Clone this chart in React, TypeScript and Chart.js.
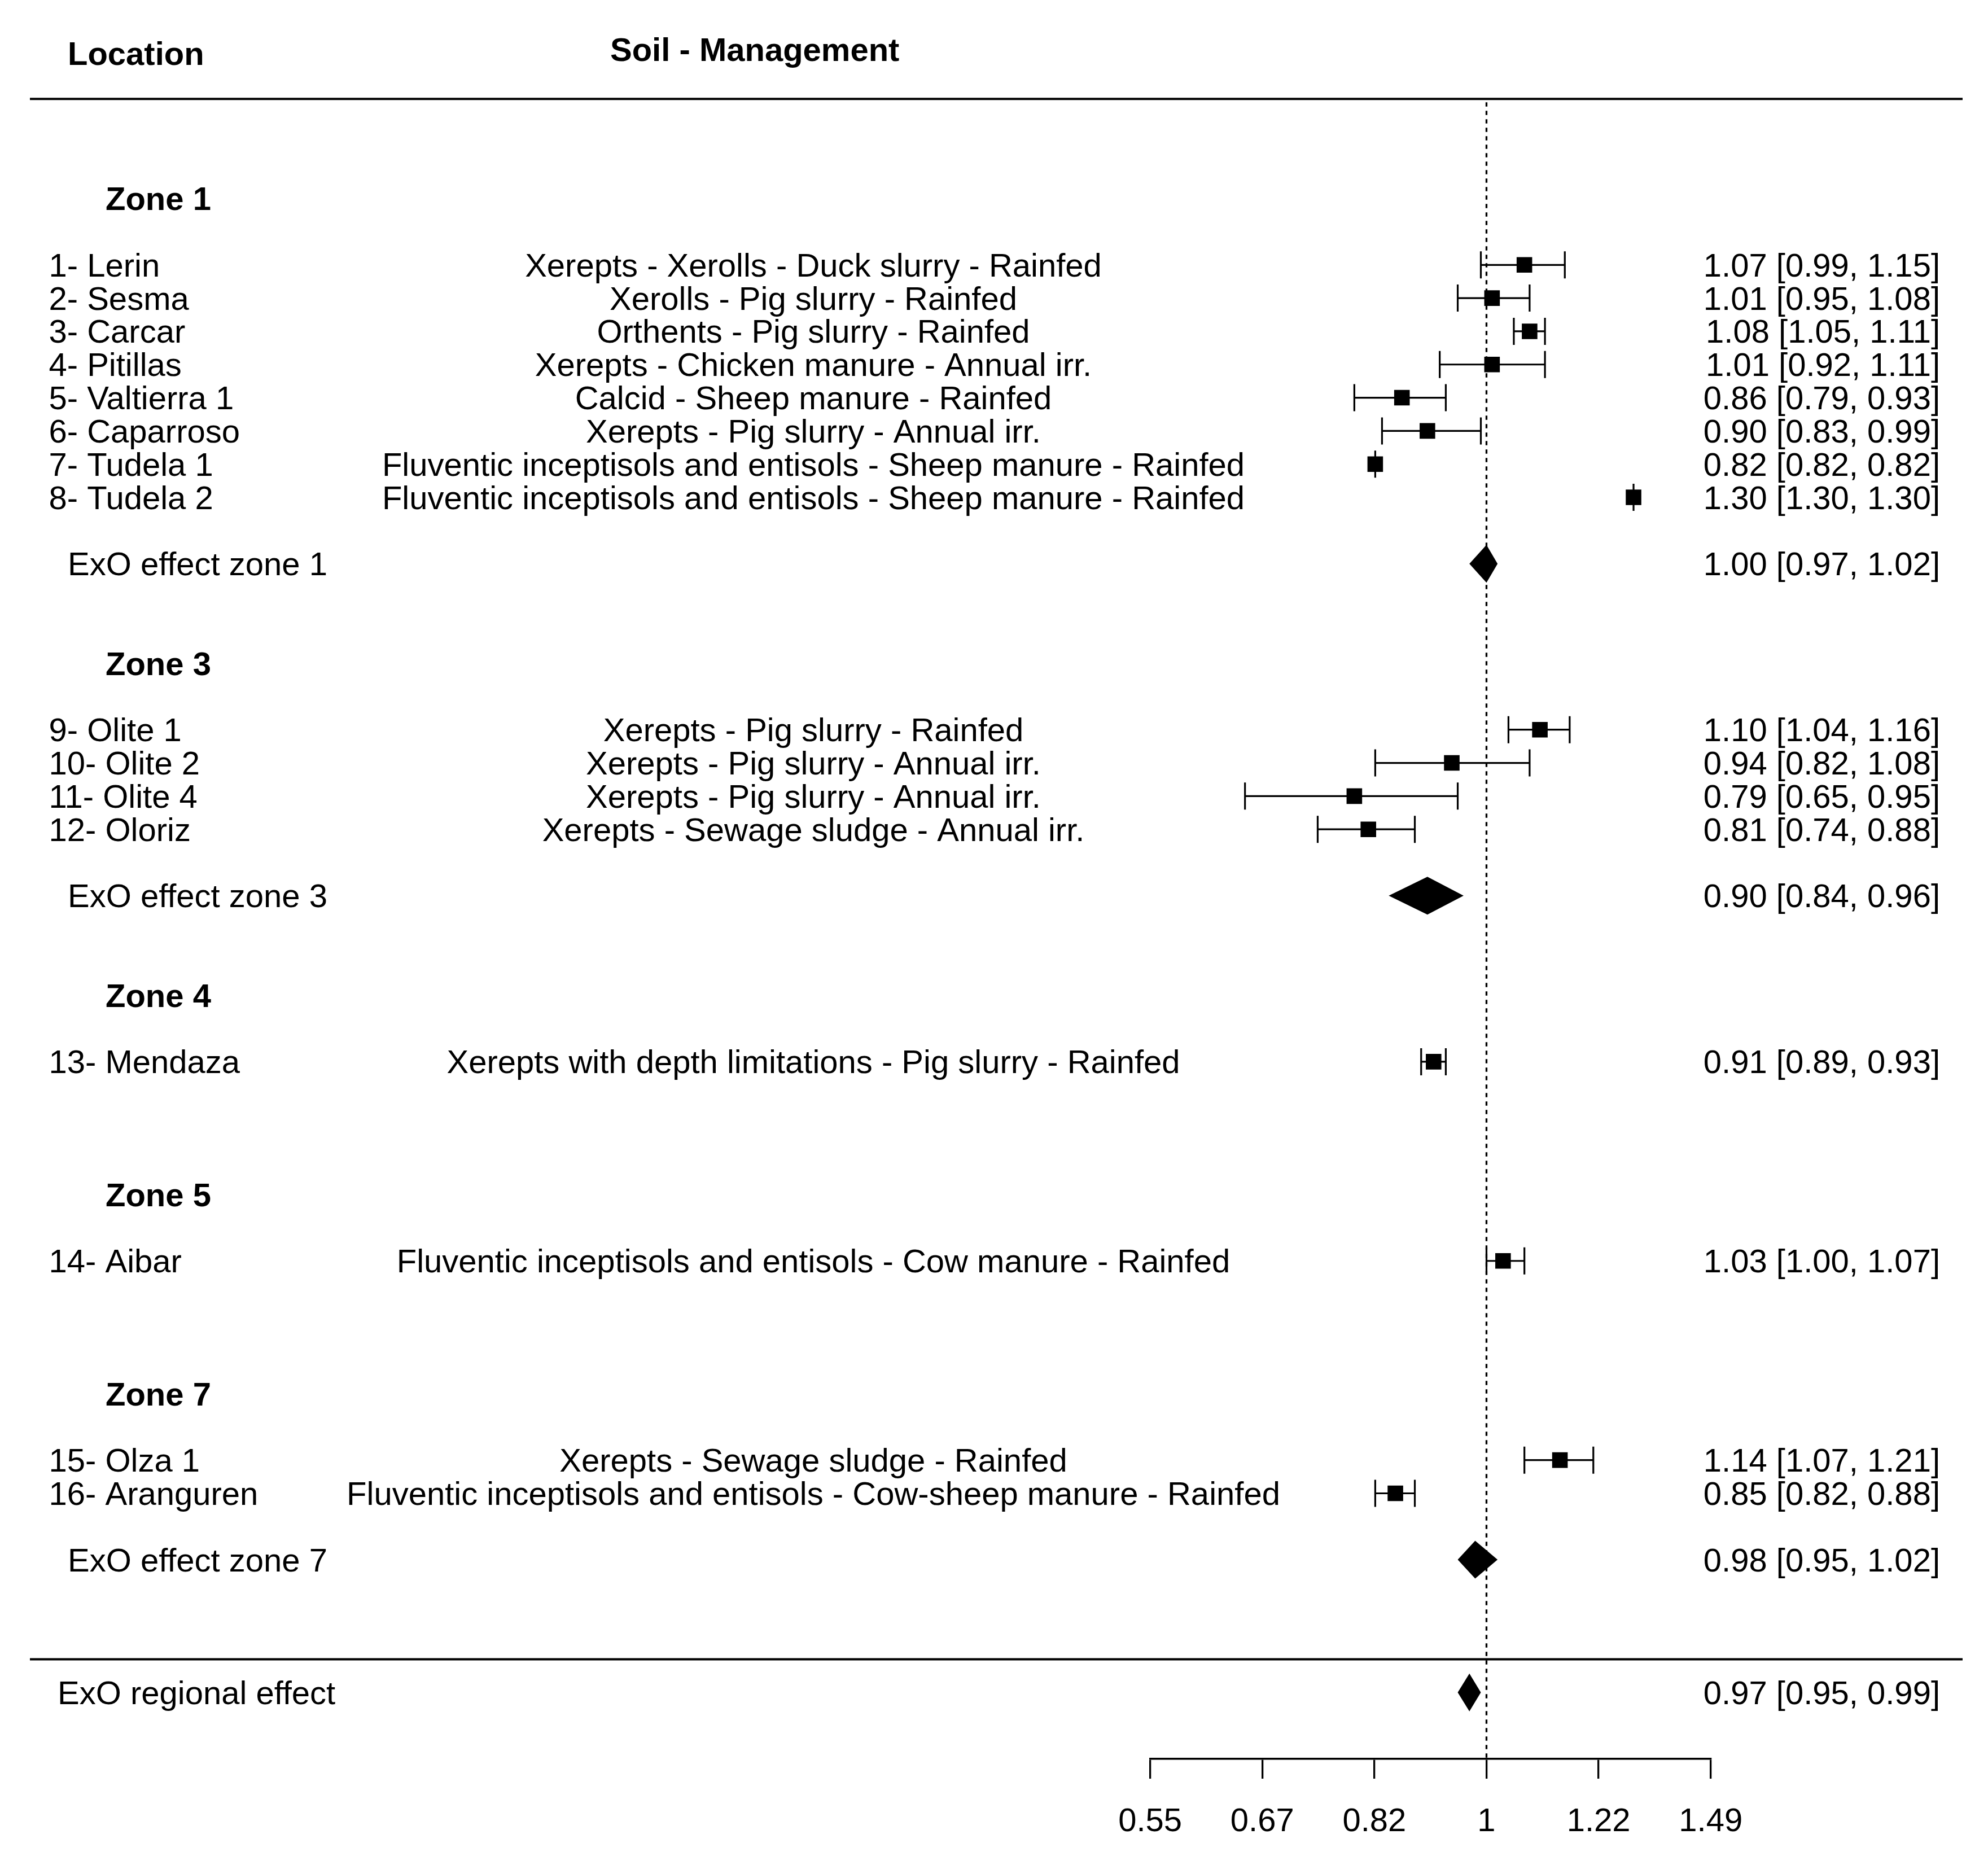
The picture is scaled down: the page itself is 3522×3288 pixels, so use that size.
import React, { useEffect, useRef } from "react";
import { Chart, registerables } from "chart.js";

Chart.register(...registerables);

// ---------- data ----------
const studyLabels = [
  "1- Lerin", "2- Sesma", "3- Carcar", "4- Pitillas", "5- Valtierra 1", "6- Caparroso",
  "7- Tudela 1", "8- Tudela 2", "9- Olite 1", "10- Olite 2", "11- Olite 4", "12- Oloriz",
  "13- Mendaza", "14- Aibar", "15- Olza 1", "16- Aranguren",
];
const studySoils = [
  "Xerepts - Xerolls - Duck slurry - Rainfed",
  "Xerolls - Pig slurry - Rainfed",
  "Orthents - Pig slurry - Rainfed",
  "Xerepts - Chicken manure - Annual irr.",
  "Calcid - Sheep manure - Rainfed",
  "Xerepts - Pig slurry - Annual irr.",
  "Fluventic inceptisols and entisols - Sheep manure - Rainfed",
  "Fluventic inceptisols and entisols - Sheep manure - Rainfed",
  "Xerepts - Pig slurry - Rainfed",
  "Xerepts - Pig slurry - Annual irr.",
  "Xerepts - Pig slurry - Annual irr.",
  "Xerepts - Sewage sludge - Annual irr.",
  "Xerepts with depth limitations - Pig slurry - Rainfed",
  "Fluventic inceptisols and entisols - Cow manure - Rainfed",
  "Xerepts - Sewage sludge - Rainfed",
  "Fluventic inceptisols and entisols - Cow-sheep manure - Rainfed",
];
const studyEst = [1.07, 1.01, 1.08, 1.01, 0.86, 0.90, 0.82, 1.30, 1.10, 0.94, 0.79, 0.81, 0.91, 1.03, 1.14, 0.85];
const studyLower = [0.99, 0.95, 1.05, 0.92, 0.79, 0.83, 0.82, 1.30, 1.04, 0.82, 0.65, 0.74, 0.89, 1.00, 1.07, 0.82];
const studyUpper = [1.15, 1.08, 1.11, 1.11, 0.93, 0.99, 0.82, 1.30, 1.16, 1.08, 0.95, 0.88, 0.93, 1.07, 1.21, 0.88];
const studyRows = [5, 6, 7, 8, 9, 10, 11, 12, 19, 20, 21, 22, 29, 35, 41, 42];

const zoneHeaders = ["Zone 1", "Zone 3", "Zone 4", "Zone 5", "Zone 7"];
const zoneHeaderRows = [3, 17, 27, 33, 39];

const zoneSummaryLabels = ["ExO effect zone 1", "ExO effect zone 3", "ExO effect zone 7"];
const zoneSummaryEst = [1.00, 0.90, 0.98];
const zoneSummaryLower = [0.97, 0.84, 0.95];
const zoneSummaryUpper = [1.02, 0.96, 1.02];
const zoneSummaryRows = [14, 24, 44];

const regionalLabel = "ExO regional effect";
const regionalEst = [0.97];
const regionalLower = [0.95];
const regionalUpper = [0.99];
const regionalRows = [48];

const tickValues = [0.5488, 0.6703, 0.8187, 1, 1.2214, 1.4918];
const tickLabels = ["0.55", "0.67", "0.82", "1", "1.22", "1.49"];

const headerLocation = "Location";
const headerSoil = "Soil - Management";
const separatorRows = [0, 47];
const axisRow = 50;
const topRow = -2;
const refValue = 1;

// ---------- styling ----------
const FAMILY = '"Liberation Sans", Arial, sans-serif';
const FS = 58;
const TEXT_DY = 4.5;

const fmt = (e: number, l: number, u: number) =>
  `${e.toFixed(2)} [${l.toFixed(2)}, ${u.toFixed(2)}]`;

const forestPlugin = {
  id: "forestPlugin",
  beforeDatasetsDraw(chart: any) {
    const { ctx } = chart;
    const x = chart.scales.x;
    const y = chart.scales.y;
    ctx.save();
    ctx.strokeStyle = "#000";
    ctx.fillStyle = "#000";

    // separator lines
    ctx.lineWidth = 4;
    separatorRows.forEach((r) => {
      const py = y.getPixelForValue(r);
      ctx.beginPath();
      ctx.moveTo(53, py);
      ctx.lineTo(3477, py);
      ctx.stroke();
    });

    // reference dashed line
    const rx = x.getPixelForValue(refValue);
    ctx.setLineDash([7.5, 7.5]);
    ctx.lineWidth = 3.3;
    ctx.beginPath();
    ctx.moveTo(rx, y.getPixelForValue(separatorRows[0]) + 6);
    ctx.lineTo(rx, y.getPixelForValue(axisRow));
    ctx.stroke();
    ctx.setLineDash([]);

    // confidence intervals
    ctx.lineWidth = 3.2;
    studyEst.forEach((_, i) => {
      const py = y.getPixelForValue(studyRows[i]);
      const x0 = x.getPixelForValue(studyLower[i]);
      const x1 = x.getPixelForValue(studyUpper[i]);
      ctx.beginPath();
      ctx.moveTo(x0, py);
      ctx.lineTo(x1, py);
      ctx.moveTo(x0, py - 24);
      ctx.lineTo(x0, py + 24);
      ctx.moveTo(x1, py - 24);
      ctx.lineTo(x1, py + 24);
      ctx.stroke();
    });

    // summary diamonds
    const diamond = (e: number, l: number, u: number, r: number) => {
      const py = y.getPixelForValue(r);
      const h = 33.5;
      ctx.beginPath();
      ctx.moveTo(x.getPixelForValue(l), py);
      ctx.lineTo(x.getPixelForValue(e), py - h);
      ctx.lineTo(x.getPixelForValue(u), py);
      ctx.lineTo(x.getPixelForValue(e), py + h);
      ctx.closePath();
      ctx.fill();
    };
    zoneSummaryEst.forEach((e, i) =>
      diamond(e, zoneSummaryLower[i], zoneSummaryUpper[i], zoneSummaryRows[i])
    );
    regionalEst.forEach((e, i) =>
      diamond(e, regionalLower[i], regionalUpper[i], regionalRows[i])
    );
    ctx.restore();
  },
  afterDraw(chart: any) {
    const { ctx } = chart;
    const y = chart.scales.y;
    const ty = (r: number) => y.getPixelForValue(r) + TEXT_DY;
    ctx.save();
    ctx.fillStyle = "#000";
    ctx.textBaseline = "middle";

    // headers
    ctx.font = `bold ${FS}px ${FAMILY}`;
    ctx.textAlign = "left";
    ctx.fillText(headerLocation, 120, ty(-1.37));
    ctx.fillText(headerSoil, 1081, ty(-1.5));

    // zone headers
    zoneHeaders.forEach((t, i) => {
      ctx.fillText(t, 187, ty(zoneHeaderRows[i]));
    });

    ctx.font = `${FS}px ${FAMILY}`;
    // studies
    studyLabels.forEach((t, i) => {
      const py = ty(studyRows[i]);
      ctx.textAlign = "left";
      ctx.fillText(t, 86.5, py);
      ctx.textAlign = "center";
      ctx.fillText(studySoils[i], 1441, py);
      ctx.textAlign = "right";
      ctx.fillText(fmt(studyEst[i], studyLower[i], studyUpper[i]), 3437, py);
    });

    // zone summaries
    zoneSummaryLabels.forEach((t, i) => {
      const py = ty(zoneSummaryRows[i]);
      ctx.textAlign = "left";
      ctx.fillText(t, 120, py);
      ctx.textAlign = "right";
      ctx.fillText(fmt(zoneSummaryEst[i], zoneSummaryLower[i], zoneSummaryUpper[i]), 3437, py);
    });

    // regional
    regionalEst.forEach((e, i) => {
      const py = ty(regionalRows[i]);
      ctx.textAlign = "left";
      ctx.fillText(regionalLabel, 102, py);
      ctx.textAlign = "right";
      ctx.fillText(fmt(e, regionalLower[i], regionalUpper[i]), 3437, py);
    });

    ctx.restore();
  },
};

export default function App() {
  const canvasRef = useRef<HTMLCanvasElement | null>(null);

  useEffect(() => {
    document.body.style.margin = "0";
    const canvas = canvasRef.current;
    if (!canvas) return;
    const chart = new Chart(canvas, {
      type: "scatter",
      data: {
        datasets: [
          {
            data: studyEst.map((v, i) => ({ x: v, y: studyRows[i] })),
            pointStyle: "rect",
            pointRadius: 19.5,
            pointHoverRadius: 19.5,
            backgroundColor: "#000",
            borderColor: "#000",
            borderWidth: 0,
          },
        ],
      },
      options: {
        animation: false,
        responsive: false,
        devicePixelRatio: 1,
        events: [],
        layout: {
          padding: { left: 2037.6, right: 491.3, top: 57.6, bottom: 0 },
        },
        plugins: {
          legend: { display: false },
          tooltip: { enabled: false },
          title: { display: false },
        },
        scales: {
          x: {
            type: "logarithmic",
            position: "bottom",
            min: tickValues[0],
            max: tickValues[tickValues.length - 1],
            afterBuildTicks: (axis: any) => {
              axis.ticks = tickValues.map((v) => ({ value: v }));
            },
            afterFit: (axis: any) => {
              axis.height = 172;
            },
            grid: {
              display: true,
              drawOnChartArea: false,
              drawTicks: true,
              tickLength: 35,
              tickWidth: 3.3,
              tickColor: "#000",
              lineWidth: 3.3,
              color: "#000",
            },
            border: { display: true, color: "#000", width: 3.6 },
            ticks: {
              autoSkip: false,
              maxRotation: 0,
              minRotation: 0,
              padding: 42,
              color: "#000",
              font: { family: FAMILY, size: FS },
              callback: (_v: any, i: number) => tickLabels[i],
            },
          },
          y: {
            type: "linear",
            display: false,
            reverse: true,
            min: topRow,
            max: axisRow,
          },
        },
      },
      plugins: [forestPlugin],
    } as any);
    return () => chart.destroy();
  }, []);

  return (
    <div style={{ position: "absolute", left: 0, top: 0, width: 3522, height: 3288, background: "#fff" }}>
      <canvas ref={canvasRef} width={3522} height={3288} style={{ display: "block" }} />
    </div>
  );
}
